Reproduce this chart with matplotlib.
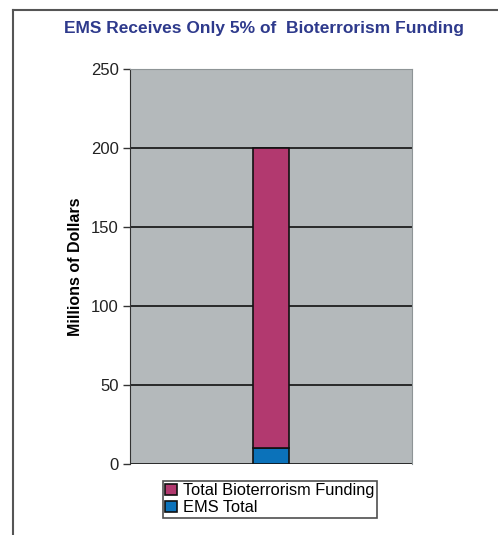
import matplotlib
matplotlib.use("Agg")
import matplotlib.pyplot as plt
from matplotlib.lines import Line2D

plt.rcParams["font.family"] = ["Liberation Sans", "DejaVu Sans"]

# funding in millions of dollars
total_funding = 200
ems_total = 10
series_labels = ["Total Bioterrorism Funding", "EMS Total"]
y_ticks = [0, 50, 100, 150, 200, 250]

PINK = "#B2396F"
BLUE = "#0B72BA"
PLOT_BG = "#B4B9BB"
TITLE_BLUE = "#2E3A8C"

fig = plt.figure(figsize=(4.98, 5.35), dpi=100)

# outer frame lines (top and left)
fig.add_artist(Line2D([13 / 498, 1.0], [1 - 10 / 535, 1 - 10 / 535], color="#555555", lw=1.5))
fig.add_artist(Line2D([13 / 498, 13 / 498], [0, 1 - 10 / 535], color="#555555", lw=1.5))

fig.text(264 / 498, 1 - 29 / 535, "EMS Receives Only 5% of  Bioterrorism Funding",
         ha="center", va="center", fontsize=12.5, fontweight="bold", color=TITLE_BLUE)

ax = fig.add_axes([130 / 498, 1 - 464 / 535, 282 / 498, 395 / 535])
ax.set_facecolor(PLOT_BG)

x = 0.5
w = 0.125
b1 = ax.bar(x, ems_total, width=w, color=BLUE, edgecolor="#111111", lw=1.2, zorder=3,
            label=series_labels[1])
b2 = ax.bar(x, total_funding - ems_total, bottom=ems_total, width=w, color=PINK,
            edgecolor="#111111", lw=1.2, zorder=3, label=series_labels[0])

ax.set_xlim(0, 1)
ax.set_ylim(0, 250)
ax.set_yticks(y_ticks)
ax.set_xticks([])
ax.yaxis.grid(True, color="#111111", lw=1.2, zorder=1)
ax.set_axisbelow(True)
ax.tick_params(axis="y", direction="out", length=5, width=1, color="#333333",
               labelsize=12, labelcolor="#222222", pad=3)

for s in ["top", "right"]:
    ax.spines[s].set_color("#8E9496")
ax.spines["bottom"].set_visible(False)
ax.spines["left"].set_color("#333333")

ax.set_ylabel("Millions of Dollars", fontsize=11.5, fontweight="bold", labelpad=6)

leg = ax.legend([b2, b1], series_labels, loc="upper left",
                bbox_to_anchor=((163 - 130) / 282, -(481 - 464) / 395),
                frameon=True, fancybox=False, edgecolor="#222222", fontsize=11.8,
                handlelength=0.7, handleheight=0.7, handletextpad=0.4,
                borderpad=0.15, labelspacing=0.1, borderaxespad=0)
leg.get_frame().set_linewidth(1.2)

fig.savefig("out.png", dpi=100)
